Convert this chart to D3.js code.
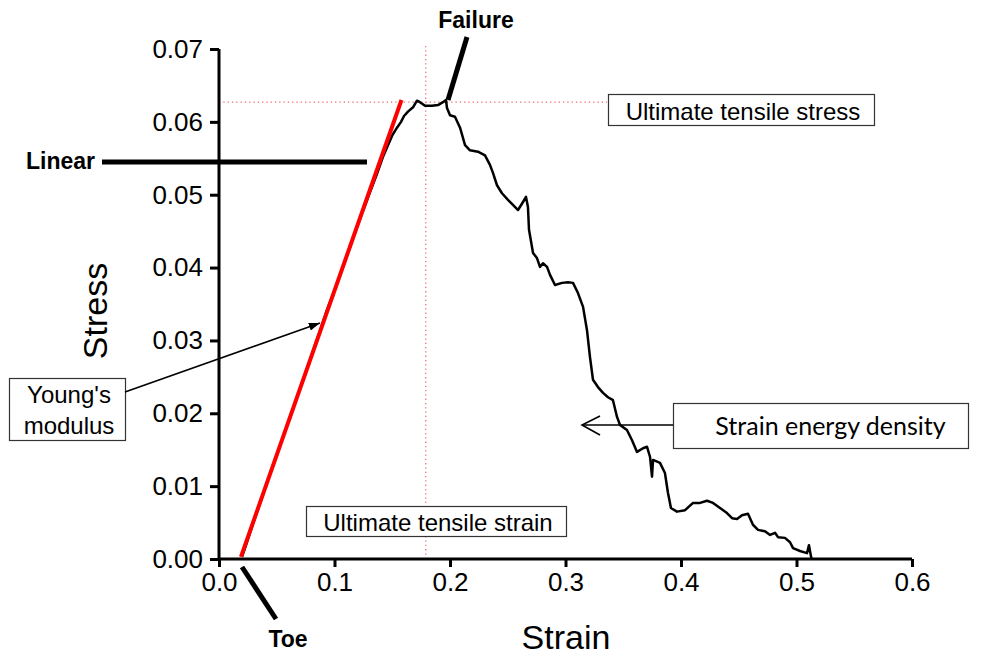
<!DOCTYPE html>
<html>
<head>
<meta charset="utf-8">
<script src="https://cdn.jsdelivr.net/npm/d3@7"></script>
<style>
body { margin: 0; background: #fff; }
svg { display: block; }
</style>
</head>
<body>
<script>
var strain = [0.0199, 0.0234, 0.0307, 0.0394, 0.0485, 0.0576, 0.0667, 0.0758, 0.0848, 0.0935,
	0.1035, 0.1126, 0.1216, 0.1299, 0.1364, 0.1420, 0.1463, 0.1502, 0.1541, 0.1576,
	0.1602, 0.1636, 0.1680, 0.1714, 0.1740, 0.1784, 0.1844,
	0.1896, 0.1939, 0.1965, 0.1974, 0.2000, 0.2043, 0.2087, 0.2130, 0.2173, 0.2242,
	0.2303, 0.2346, 0.2372, 0.2407, 0.2450, 0.2502, 0.2545, 0.2589, 0.2632, 0.2658,
	0.2675, 0.2684, 0.2719, 0.2753, 0.2779, 0.2805, 0.2840, 0.2866, 0.2909, 0.2970,
	0.3022, 0.3065, 0.3108, 0.3152, 0.3186, 0.3212, 0.3238, 0.3281, 0.3325, 0.3368,
	0.3411, 0.3446, 0.3472, 0.3532, 0.3576, 0.3619, 0.3671, 0.3706, 0.3732, 0.3749,
	0.3758, 0.3818, 0.3861, 0.3887, 0.3913, 0.3965, 0.4035, 0.4104, 0.4165, 0.4225,
	0.4277, 0.4338, 0.4398, 0.4442, 0.4485, 0.4528, 0.4580, 0.4623, 0.4667, 0.4727,
	0.4771, 0.4814, 0.4840, 0.4900, 0.4944, 0.4970, 0.5030, 0.5091, 0.5108, 0.5126,
	0.5134];
var stress = [0.0003, 0.0019, 0.0054, 0.0095, 0.0136, 0.0177, 0.0218, 0.0260, 0.0301, 0.0342,
	0.0383, 0.0424, 0.0465, 0.0500, 0.0527, 0.0552, 0.0568, 0.0582, 0.0592, 0.0600,
	0.0608, 0.0614, 0.0620, 0.0629, 0.0627, 0.0622, 0.0622,
	0.0623, 0.0627, 0.0630, 0.0619, 0.0609, 0.0607, 0.0592, 0.0568, 0.0561, 0.0559,
	0.0554, 0.0541, 0.0530, 0.0513, 0.0502, 0.0493, 0.0486, 0.0479, 0.0490, 0.0497,
	0.0483, 0.0452, 0.0420, 0.0413, 0.0401, 0.0406, 0.0401, 0.0390, 0.0376, 0.0379,
	0.0380, 0.0379, 0.0365, 0.0346, 0.0314, 0.0277, 0.0246, 0.0236, 0.0228, 0.0222,
	0.0218, 0.0195, 0.0184, 0.0177, 0.0163, 0.0147, 0.0152, 0.0154, 0.0140, 0.0113,
	0.0136, 0.0132, 0.0118, 0.0091, 0.0070, 0.0065, 0.0067, 0.0077, 0.0077, 0.0080,
	0.0077, 0.0070, 0.0063, 0.0056, 0.0055, 0.0060, 0.0062, 0.0047, 0.0040, 0.0038,
	0.0033, 0.0036, 0.0030, 0.0029, 0.0023, 0.0015, 0.0011, 0.0008, 0.0019, 0.0003,
	0.0000];

// linear fit (Young's modulus)
var fitStrain = [0.019, 0.158];
var fitStress = [0.0003, 0.0630];

// ultimate tensile point
var utsStrain = 0.179;
var utsStress = 0.0627;

var xTicks = [0, 0.1, 0.2, 0.3, 0.4, 0.5, 0.6];
var yTicks = [0, 0.01, 0.02, 0.03, 0.04, 0.05, 0.06, 0.07];

var width = 992, height = 656;
var arial = "'Liberation Sans', Arial, sans-serif";

var x = d3.scaleLinear().domain([0, 0.6]).range([219, 912]);
var y = d3.scaleLinear().domain([0, 0.07]).range([559, 49]);

var svg = d3.select("body").append("svg")//
.attr("width", width)//
.attr("height", height);

var defs = svg.append("defs");
defs.append("marker")//
.attr("id", "solid-head")//
.attr("viewBox", "0 0 10 10")//
.attr("refX", 10).attr("refY", 5)//
.attr("markerWidth", 7).attr("markerHeight", 7)//
.attr("markerUnits", "strokeWidth")//
.attr("orient", "auto")//
.append("path").attr("d", "M0,1.5 L10,5 L0,8.5 Z").attr("fill", "#000");

// dotted guide lines at ultimate tensile stress / strain
svg.append("line")//
.attr("x1", x(0)).attr("x2", 607)//
.attr("y1", y(utsStress)).attr("y2", y(utsStress))//
.attr("stroke", "#ee6a6a").attr("stroke-width", 1.2)//
.attr("stroke-dasharray", "1.3,3");
svg.append("line")//
.attr("x1", x(utsStrain)).attr("x2", x(utsStrain))//
.attr("y1", y(0)).attr("y2", y(0.0708))//
.attr("stroke", "#ee6a6a").attr("stroke-width", 1.2)//
.attr("stroke-dasharray", "1.3,3");

// axes
var xAxis = d3.axisBottom(x).tickValues(xTicks).tickSize(8).tickPadding(6).tickFormat(d3.format(".1f"));
var yAxis = d3.axisLeft(y).tickValues(yTicks).tickSize(9).tickPadding(7).tickFormat(d3.format(".2f"));

function styleAxis(g) {
	g.select(".domain").attr("stroke", "#000").attr("stroke-width", 3);
	g.selectAll(".tick line").attr("stroke", "#000").attr("stroke-width", 3);
	g.selectAll(".tick text")//
	.attr("fill", "#000")//
	.style("font-family", arial)//
	.style("font-size", "26px");
}

var gx = svg.append("g").attr("transform", "translate(0," + y(0) + ")").call(xAxis);
styleAxis(gx);
gx.select(".domain").attr("d", "M" + x(0) + ",0H" + x(0.6));
var gy = svg.append("g").attr("transform", "translate(" + x(0) + ",0)").call(yAxis);
styleAxis(gy);
gy.select(".domain").attr("d", "M0," + y(0) + "V" + y(0.07));

// axis titles
svg.append("text")//
.attr("x", 566).attr("y", 649)//
.attr("text-anchor", "middle")//
.style("font-family", arial).style("font-size", "34px")//
.text("Strain");
svg.append("text")//
.attr("transform", "translate(107,311) rotate(-90)")//
.attr("text-anchor", "middle")//
.style("font-family", arial).style("font-size", "34px")//
.text("Stress");

// curve
var pts = strain.map(function(s, i) {
	return [s, stress[i]];
});
var line = d3.line().x(function(d) {
	return x(d[0]);
}).y(function(d) {
	return y(d[1]);
});
svg.append("path")//
.datum(pts)//
.attr("d", line)//
.attr("fill", "none")//
.attr("stroke", "#000")//
.attr("stroke-width", 2.5)//
.attr("stroke-linejoin", "round");

// linear fit
svg.append("path")//
.datum(fitStrain.map(function(s, i) {
	return [s, fitStress[i]];
}))//
.attr("d", line)//
.attr("fill", "none")//
.attr("stroke", "#ff0000")//
.attr("stroke-width", 4);

// thick region markers: Linear, Failure, Toe
var marks = svg.append("g").attr("stroke", "#000").attr("stroke-width", 5);
marks.append("line").attr("x1", 102).attr("x2", 367).attr("y1", y(0.0545)).attr("y2", y(0.0545));
marks.append("line").attr("x1", 448).attr("y1", 100).attr("x2", 467).attr("y2", 37);
marks.append("line").attr("x1", 242).attr("y1", 567).attr("x2", 276).attr("y2", 619);

function boldLabel(tx, ty, txt, anchor) {
	svg.append("text")//
	.attr("x", tx).attr("y", ty)//
	.attr("text-anchor", anchor)//
	.style("font-family", arial).style("font-size", "23px").style("font-weight", "bold")//
	.text(txt);
}
boldLabel(95, 169, "Linear", "end");
boldLabel(476, 28, "Failure", "middle");
boldLabel(288, 647, "Toe", "middle");

// boxed labels
function boxLabel(bx, by, bw, bh, lines, font, size, lineGap, baseline, dx) {
	svg.append("rect")//
	.attr("x", bx + 0.5).attr("y", by + 0.5)//
	.attr("width", bw).attr("height", bh)//
	.attr("fill", "#fff")//
	.attr("stroke", "#333")//
	.attr("stroke-width", 1.2);
	lines.forEach(function(t, i) {
		svg.append("text")//
		.attr("x", bx + bw / 2 + (dx || 0)).attr("y", by + baseline + i * lineGap)//
		.attr("text-anchor", "middle")//
		.style("font-family", font).style("font-size", size)//
		.text(t);
	});
}
boxLabel(608, 94, 266, 31, ["Ultimate tensile stress"], arial, "24px", 0, 26, 2);
boxLabel(306, 506, 260, 30, ["Ultimate tensile strain"], arial, "24px", 0, 25, 2);
boxLabel(9, 378, 116, 62, ["Young's", "modulus"], arial, "24px", 31, 25, 2);
boxLabel(673, 403, 295, 45, ["Strain energy density"], "Lato, 'Open Sans', sans-serif", "25px", 0, 32, 10);

// Young's modulus arrow
svg.append("line")//
.attr("x1", 125).attr("y1", 392)//
.attr("x2", 320).attr("y2", 323)//
.attr("stroke", "#000").attr("stroke-width", 1.6)//
.attr("marker-end", "url(#solid-head)");

// strain energy density arrow (open head)
var sed = svg.append("g").attr("stroke", "#000").attr("stroke-width", 1.6).attr("fill", "none");
sed.append("line").attr("x1", 673).attr("y1", 425).attr("x2", 582).attr("y2", 425);
sed.append("path").attr("d", "M600,416 L582,425 L600,435");
</script>
</body>
</html>
